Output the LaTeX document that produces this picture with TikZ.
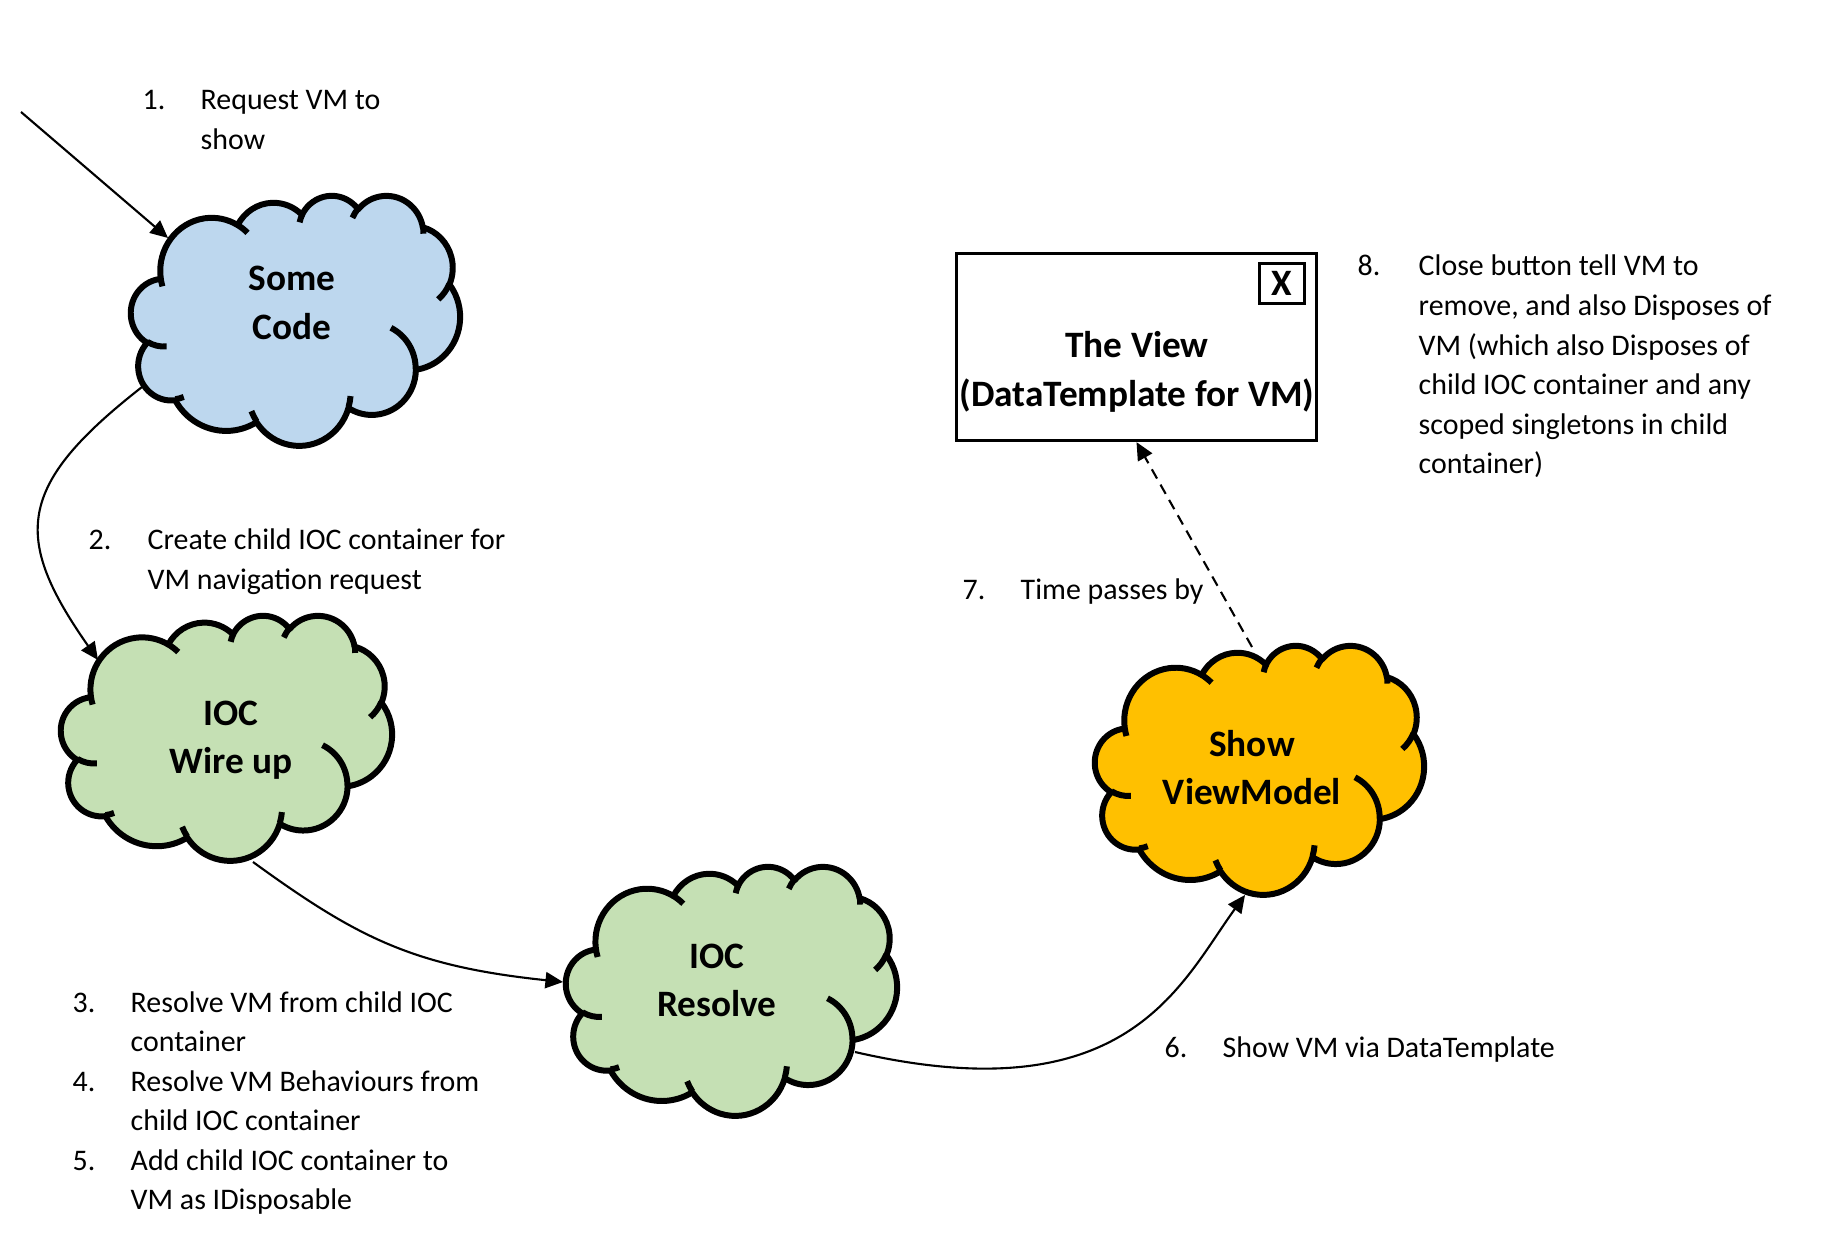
\documentclass[tikz,border=0pt]{standalone}
\usepackage{fontspec}
\setmainfont{Carlito}
\usetikzlibrary{arrows.meta,calc}

\definecolor{codeblue}{HTML}{BDD7EE}
\definecolor{iocgreen}{HTML}{C5E0B4}
\definecolor{vmorange}{HTML}{FFC000}

% one arc of the office cloud outline (radii, start and sweep as visual angles)
\newcommand\offarc[4]{arc[start angle={atan2(#1*sin(#3),#2*cos(#3))},
  delta angle={mod(atan2(#1*sin(#3+#4),#2*cos(#3+#4))-atan2(#1*sin(#3),#2*cos(#3))+720,360)},
  x radius=#1, y radius=#2]}

% cloud at #1, path size #2 x #3, filled with #4
\newcommand\officecloud[4]{%
  \begin{scope}[shift={#1}, xscale=#2/432, yscale=-#3/432, shift={(-216,-216)}]
    \filldraw[cloudline, fill=#4] (39.00,143.70)
      \offarc{67.53}{91.90}{-190.4875}{123.7805}
      \offarc{53.33}{72.67}{-144.1024}{89.9452}
      \offarc{43.65}{59.45}{-145.8079}{99.7230}
      \offarc{48.57}{65.95}{-130.9861}{117.2417}
      \offarc{53.33}{72.73}{-78.7089}{109.0269}
      \offarc{67.75}{92.20}{-46.2673}{130.2690}
      \offarc{57.85}{78.67}{0.6250}{114.0333}
      \offarc{67.52}{92.15}{22.4516}{115.1726}
      \offarc{77.20}{105.43}{66.2426}{75.7110}
      \offarc{43.60}{59.18}{-274.9421}{146.7356}
      \offarc{43.45}{59.45}{-246.8285}{152.5200}
      -- cycle;
    \draw[cloudline]
      (46.93,261.77) \offarc{43.45}{59.45}{86.7420}{26.4295}
      (69.28,348.99) \offarc{43.60}{59.18}{73.6105}{11.4475}
      (164.78,390.90) \offarc{67.52}{92.15}{137.6242}{14.0811}
      (288.27,347.51) \offarc{67.52}{92.15}{6.4533}{15.9984}
      (341.29,229.54) \offarc{57.85}{78.67}{-70.2924}{70.9174}
      (417.98,153.54) \offarc{53.33}{72.73}{30.3180}{27.7515}
      (383.24,54.26) \offarc{48.57}{65.95}{-13.7443}{14.8589}
      (290.78,39.52) \offarc{48.57}{65.95}{-149.1815}{18.1954}
      (221.41,47.20) \offarc{43.65}{59.45}{-163.4943}{17.6864}
      (140.00,51.92) \offarc{67.53}{91.90}{-66.7070}{12.3194}
      (41.27,157.89) \offarc{67.53}{91.90}{157.6544}{11.8582};
  \end{scope}}

\newcommand\lines[1]{\begin{tabular}[t]{@{}l@{}}#1\end{tabular}}
\newcommand\clines[1]{\begin{tabular}[t]{@{}c@{}}#1\end{tabular}}

\begin{document}
\begin{tikzpicture}[
    x=0.01cm, y=0.01cm,
    cloudline/.style={line width=1.7pt, line join=round},
    cloudtext/.style={inner sep=0pt, anchor=base, font=\fontsize{10.6}{13.7}\selectfont\bfseries},
    note/.style={inner sep=0pt, anchor=base west, font=\fontsize{8.5}{11.24}\selectfont},
    viewbox/.style={draw, line width=0.9pt, minimum width=3.60cm, minimum height=1.87cm},
    closebox/.style={draw, line width=0.9pt, minimum width=0.45cm, minimum height=0.40cm,
      inner sep=0pt, font=\fontsize{10.6}{12}\selectfont\bfseries},
    arr/.style={line width=0.6pt, -{Triangle[length=5pt, width=4.6pt]}}
]
\useasboundingbox (0,0) rectangle (1822,-1237);

% Clouds
\coordinate (code) at (295.5,-320);
\coordinate (wire) at (226.5,-737.5);
\coordinate (resolve) at (731.5,-990.5);
\coordinate (showvm) at (1259.5,-769.5);
\officecloud{(code)}{329}{250}{codeblue}
\officecloud{(wire)}{331}{245}{iocgreen}
\officecloud{(resolve)}{331}{249}{iocgreen}
\officecloud{(showvm)}{329}{249}{vmorange}

\node[cloudtext] (codetext) at (292,-291) {\clines{Some\\Code}};
\node[cloudtext] (wiretext) at (231,-725) {\clines{IOC\\Wire up}};
\node[cloudtext] (resolvetext) at (717,-968) {\clines{IOC\\Resolve}};
\node[cloudtext] (showvmtext) at (1252,-756) {\clines{Show\\ViewModel}};

% The view
\node[viewbox] (view) at (1136.5,-347) {};
\node[cloudtext, font=\fontsize{10.6}{13.9}\selectfont\bfseries] (viewtext) at (1137,-358)
  {\clines{The View\\(DataTemplate for VM)}};
\node[closebox] (closebtn) at (1282,-283.5) {X};

% Connectors
\coordinate (request) at (21,-112);
\draw[arr] (request) -- ($(code)+(-127.5,82)$);
\draw[arr] ($(code)+(-153.5,-67)$) .. controls +(218:160) and +(125:150) .. ($(wire)+(-128.5,77.5)$);
\draw[arr] ($(wire)+(26.5,-124.5)$) .. controls +(-36:130) and +(174:150) .. ($(resolve)+(-168.5,8.5)$);
\draw[arr] ($(resolve)+(123.5,-61.5)$) .. controls +(-13:280) and +(234:110) .. ($(showvm)+(-14.5,-125.5)$);
\draw[arr, dash pattern=on 3pt off 2pt] ($(showvm)+(-7.5,122.5)$) -- (view.south);

% Steps
\node[note] (n1) at (142,-110) {1.};
\node[note] (s1) at (200,-110) {\lines{Request VM to\\show}};
\node[note] (n2) at (88,-550) {2.};
\node[note] (s2) at (147,-550) {\lines{Create child IOC container for\\VM navigation request}};
\node[note] (n3) at (72,-1012) {3.};
\node[note] (s3) at (130,-1012) {\lines{Resolve VM from child IOC\\container}};
\node[note] (n4) at (72,-1091) {4.};
\node[note] (s4) at (130,-1091) {\lines{Resolve VM Behaviours from\\child IOC container}};
\node[note] (n5) at (72,-1170) {5.};
\node[note] (s5) at (130,-1170) {\lines{Add child IOC container to\\VM as IDisposable}};
\node[note] (n6) at (1164,-1057) {6.};
\node[note] (s6) at (1222,-1057) {Show VM via DataTemplate};
\node[note] (n7) at (962,-599) {7.};
\node[note] (s7) at (1020,-599) {Time passes by};
\node[note] (n8) at (1357,-276) {8.};
\node[note] (s8) at (1418,-276) {\lines{Close button tell VM to\\remove, and also Disposes of\\VM (which also Disposes of\\child IOC container and any\\scoped singletons in child\\container)}};
\end{tikzpicture}
\end{document}
